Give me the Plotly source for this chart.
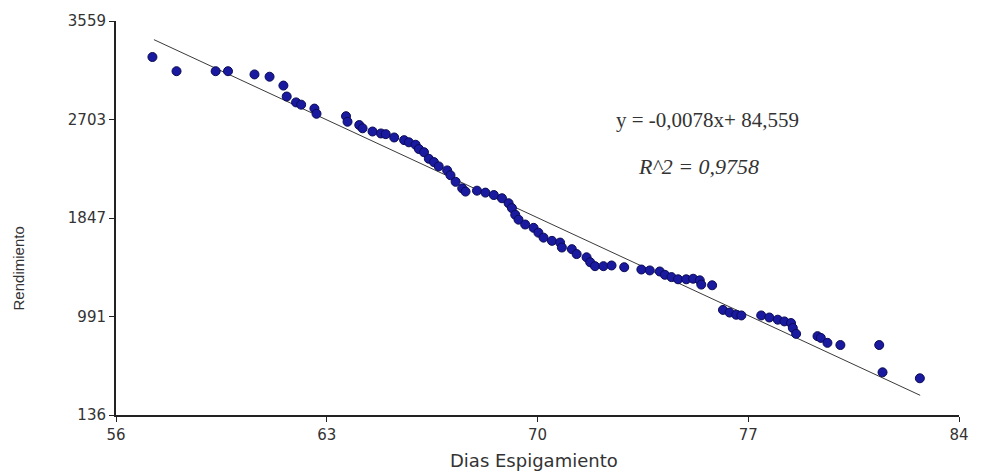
import plotly.graph_objects as go

# Observed points: days to heading vs yield
dias = [57.21, 58.01, 59.31, 59.72, 60.60, 61.10, 61.56, 61.67, 61.98, 62.15,
        62.59, 62.66, 63.64, 63.69, 64.08, 64.19, 64.52, 64.80, 64.96, 65.24,
        65.57, 65.73, 65.95, 66.06, 66.23, 66.39, 66.56, 66.72, 67.00, 67.11,
        67.28, 67.50, 67.61, 67.99, 68.27, 68.55, 68.82, 69.04, 69.15, 69.26,
        69.37, 69.59, 69.87, 70.03, 70.20, 70.48, 70.75, 70.81, 71.14, 71.30,
        71.63, 71.75, 71.91, 72.19, 72.46, 72.88, 73.45, 73.73, 74.06, 74.23,
        74.45, 74.67, 74.94, 75.17, 75.39, 75.44, 75.80, 76.16, 76.38, 76.60,
        76.77, 77.43, 77.70, 77.98, 78.20, 78.42, 78.48, 78.59, 79.30, 79.41,
        79.63, 80.06, 81.35, 81.46, 82.70]
rendimiento = [3246, 3123, 3123, 3123, 3095, 3075, 2998, 2903, 2852, 2832,
               2798, 2753, 2732, 2684, 2655, 2627, 2599, 2582, 2576, 2547,
               2524, 2505, 2484, 2447, 2419, 2362, 2333, 2296, 2261, 2219,
               2162, 2105, 2077, 2085, 2068, 2047, 2019, 1976, 1934, 1876,
               1833, 1791, 1762, 1720, 1677, 1649, 1634, 1591, 1577, 1534,
               1506, 1463, 1429, 1429, 1435, 1420, 1400, 1392, 1383, 1354,
               1334, 1315, 1315, 1320, 1306, 1269, 1263, 1049, 1026, 1007,
               1001, 1001, 983, 964, 949, 935, 892, 841, 821, 806,
               763, 744, 744, 507, 455]

# Trend line end points
trend_x = [57.26, 82.71]
trend_y = [3397, 307]

x_ticks = [56, 63, 70, 77, 84]
y_ticks = [136, 991, 1847, 2703, 3559]

eq_text = "y = -0,0078x+ 84,559"
r2_text = "<i>R^2 = 0,9758</i>"

fig = go.Figure()
fig.add_trace(go.Scatter(x=trend_x, y=trend_y, mode="lines",
                         line=dict(color="#3a3a3a", width=1), showlegend=False,
                         hoverinfo="skip"))
fig.add_trace(go.Scatter(x=dias, y=rendimiento, mode="markers",
                         marker=dict(size=9, color="#1a1aa0",
                                     line=dict(color="#0b0b55", width=1)),
                         showlegend=False))

axis_font = dict(family="DejaVu Sans", size=15, color="#333333")
fig.update_layout(
    width=981, height=474,
    margin=dict(l=116, r=20, t=15, b=59),
    plot_bgcolor="white", paper_bgcolor="white",
    xaxis=dict(range=[56, 84], tickvals=x_ticks, ticktext=[str(v) for v in x_ticks],
               showgrid=False, zeroline=False, showline=True, linecolor="#222",
               linewidth=1.5, ticks="outside", ticklen=5, tickcolor="#222",
               tickfont=axis_font),
    yaxis=dict(range=[136, 3559], tickvals=y_ticks, ticktext=[str(v) for v in y_ticks],
               showgrid=False, zeroline=False, showline=True, linecolor="#222",
               linewidth=2, ticks="outside", ticklen=5, tickcolor="#222",
               tickfont=axis_font),
    annotations=[
        dict(text="Rendimiento", xref="paper", yref="paper",
             x=(18 - 116) / 845, y=(415 - 266) / 400, textangle=-90,
             showarrow=False, xanchor="center", yanchor="middle",
             font=dict(family="Liberation Sans", size=15, color="#333333")),
        dict(text="Dias Espigamiento", xref="paper", yref="paper",
             x=(535 - 116) / 845, y=(415 - 461) / 400, showarrow=False,
             xanchor="center", yanchor="middle",
             font=dict(family="DejaVu Sans", size=18, color="#333333")),
        dict(text=eq_text, xref="paper", yref="paper",
             x=(709 - 116) / 845, y=(415 - 116) / 400, showarrow=False,
             xanchor="center", yanchor="middle",
             font=dict(family="Liberation Serif", size=21, color="#333333")),
        dict(text=r2_text, xref="paper", yref="paper",
             x=(700 - 116) / 845, y=(415 - 163) / 400, showarrow=False,
             xanchor="center", yanchor="middle",
             font=dict(family="Liberation Serif", size=22, color="#333333")),
    ],
)

fig.write_html("out.html")
